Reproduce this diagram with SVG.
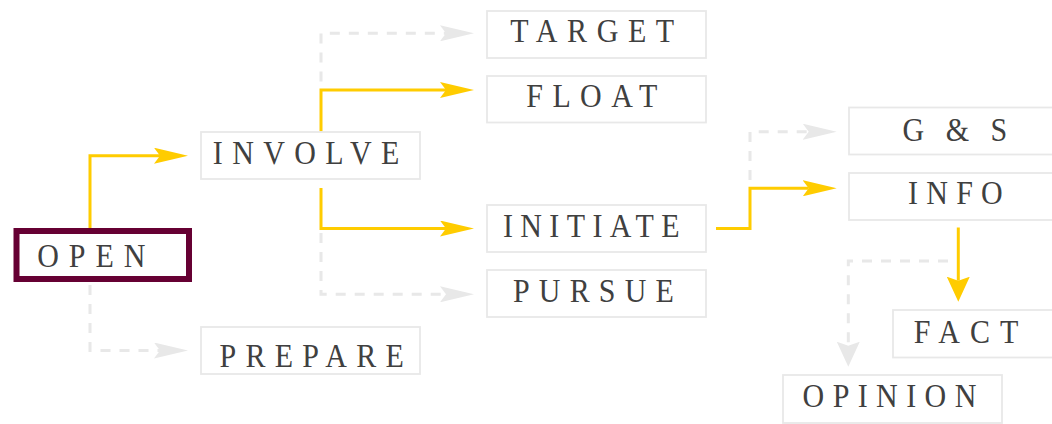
<svg xmlns="http://www.w3.org/2000/svg" width="1052" height="424" viewBox="0 0 1052 424">
<style>
.box{fill:#fff;stroke:#e8e8e8;stroke-width:1.8}
.lbl{font-family:"Liberation Serif","Times New Roman",serif;font-size:30px;fill:#404040}
.yl{fill:none;stroke:#ffcc00;stroke-width:3}
.gl{fill:none;stroke:#e8e8e8;stroke-width:3;stroke-dasharray:10 9}
</style>
<defs>
<marker id="ahy" markerUnits="userSpaceOnUse" markerWidth="34" markerHeight="16" refX="6" refY="8" orient="auto"><path d="M0,0 L34,8 L0,16 L6,8 z" fill="#ffcc00"/></marker>
<marker id="ahg" markerUnits="userSpaceOnUse" markerWidth="34" markerHeight="16" refX="6" refY="8" orient="auto"><path d="M0,0 L34,8 L0,16 L6,8 z" fill="#e8e8e8"/></marker>
<marker id="avy" markerUnits="userSpaceOnUse" markerWidth="25" markerHeight="23" refX="4" refY="11.5" orient="auto"><path d="M0,0 L25,11.5 L0,23 L4,11.5 z" fill="#ffcc00"/></marker>
<marker id="avg" markerUnits="userSpaceOnUse" markerWidth="25" markerHeight="23" refX="4" refY="11.5" orient="auto"><path d="M0,0 L25,11.5 L0,23 L4,11.5 z" fill="#e8e8e8"/></marker>
</defs>
<g id="connectors">
<path class="gl" d="M90,285 V350.5 H160" marker-end="url(#ahg)"/>
<path class="gl" d="M321,81.5 V33.3 H446" marker-end="url(#ahg)"/>
<path class="gl" d="M321,233 V294.3 H446" marker-end="url(#ahg)"/>
<path class="gl" d="M750,180 V131.7 H808.7" marker-end="url(#ahg)"/>
<path class="gl" d="M948,261 H848.3 V345.7" marker-end="url(#avg)"/>
<path class="yl" d="M90,229 V155.7 H160" marker-end="url(#ahy)"/>
<path class="yl" d="M321,131.5 V90 H446" marker-end="url(#ahy)"/>
<path class="yl" d="M321,188 V228.5 H446" marker-end="url(#ahy)"/>
<path class="yl" d="M716,228.5 H750 V188.3 H808.7" marker-end="url(#ahy)"/>
<path class="yl" d="M958.3,227.5 V280.7" marker-end="url(#avy)"/>
</g>
<g id="open"><rect x="16.5" y="231" width="172.5" height="48" fill="#fff" stroke="#660033" stroke-width="6"/><text class="lbl" transform="translate(37.2,266.7) scale(1,1.135)" letter-spacing="10">OPEN</text></g>
<g id="involve"><rect class="box" x="201" y="132" width="219" height="47"/><text class="lbl" transform="translate(212.8,164.3) scale(1,1.135)" letter-spacing="9.35">INVOLVE</text></g>
<g id="prepare"><rect class="box" x="201" y="327" width="219" height="47"/><text class="lbl" transform="translate(219.6,367.3) scale(1,1.135)" letter-spacing="9.2">PREPARE</text></g>
<g id="target"><rect class="box" x="487" y="11" width="219" height="47"/><text class="lbl" transform="translate(510.3,42.3) scale(1,1.135)" letter-spacing="9.6">TARGET</text></g>
<g id="float"><rect class="box" x="487" y="76" width="219" height="46.5"/><text class="lbl" transform="translate(526.3,107.3) scale(1,1.135)" letter-spacing="9.4">FLOAT</text></g>
<g id="initiate"><rect class="box" x="487" y="205" width="219" height="47"/><text class="lbl" transform="translate(502.9,236.7) scale(1,1.135)" letter-spacing="7.4">INITIATE</text></g>
<g id="pursue"><rect class="box" x="487" y="270" width="219" height="47"/><text class="lbl" transform="translate(512.9,301.7) scale(1,1.135)" letter-spacing="9.2">PURSUE</text></g>
<g id="gs"><rect class="box" x="849" y="107.5" width="219" height="47"/><text class="lbl" transform="translate(902.6,140.7) scale(1,1.135)" letter-spacing="7">G &amp; S</text></g>
<g id="info"><rect class="box" x="849" y="173" width="219" height="47"/><text class="lbl" transform="translate(907.9,204.3) scale(1,1.135)" letter-spacing="8.3">INFO</text></g>
<g id="fact"><rect class="box" x="893" y="310" width="219" height="47.5"/><text class="lbl" transform="translate(913.7,343.3) scale(1,1.135)" letter-spacing="10.1">FACT</text></g>
<g id="opinion"><rect class="box" x="783" y="375" width="219" height="48"/><text class="lbl" transform="translate(802.6,406.7) scale(1,1.135)" letter-spacing="8.4">OPINION</text></g>
</svg>
